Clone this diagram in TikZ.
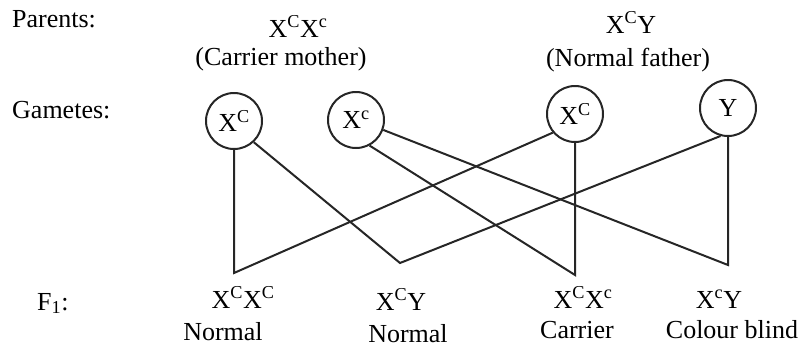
\documentclass[tikz,border=0pt]{standalone}
\usepackage{fontspec}
\setmainfont{Liberation Serif}
\begin{document}
\begin{tikzpicture}[x=1pt,y=-1pt,
  lbl/.style={font=\fontsize{26}{29}\selectfont, inner sep=0pt, anchor=base},
  side/.style={lbl, anchor=base west},
  gam/.style={draw=black!85, line width=2pt, circle, minimum size=56pt, inner sep=0pt, font=\fontsize{26}{29}\selectfont},
  link/.style={draw=black!85, line width=2pt}]
\useasboundingbox (0,0) rectangle (803,349);
% left labels
\node[side] (parents) at (12,27) {Parents:};
\node[side] (gametes) at (12,118) {Gametes:};
\node[side] (f1) at (37,310) {F\textsubscript{1}:};
% parents
\node[lbl] (mother) at (298,37) {X\textsuperscript{C}X\textsuperscript{c}};
\node[lbl] (mlab) at (281,65) {(Carrier mother)};
\node[lbl] (father) at (631,33) {X\textsuperscript{C}Y};
\node[lbl] (flab) at (628,66) {(Normal father)};
% gametes
\node[gam] (g1) at (234,121) {X\textsuperscript{C}};
\node[gam] (g2) at (356,120) {X\textsuperscript{c}};
\node[gam] (g3) at (575,114) {X\textsuperscript{C}};
\node[gam] (g4) at (728,108) {Y};
% F1 junction points
\coordinate (n1) at (234,273);
\coordinate (n2) at (400,263);
\coordinate (n3) at (575,275);
\coordinate (n4) at (728,265);
% connectors
\draw[link] (g1.south) -- (n1) -- (g3.-140);
\draw[link] (g1.-47) -- (n2) -- (g4.-105);
\draw[link] (g2.-62) -- (n3) -- (g3.south);
\draw[link] (g2.-20) -- (n4) -- (g4.south);
% F1 genotypes
\node[lbl] (c1) at (243,308) {X\textsuperscript{C}X\textsuperscript{C}};
\node[lbl] (c2) at (401,310) {X\textsuperscript{C}Y};
\node[lbl] (c3) at (583,308) {X\textsuperscript{C}X\textsuperscript{c}};
\node[lbl] (c4) at (719,308) {X\textsuperscript{c}Y};
\node[lbl] (p1) at (223,340) {Normal};
\node[lbl] (p2) at (408,342) {Normal};
\node[lbl] (p3) at (577,338) {Carrier};
\node[lbl] (p4) at (732,338) {Colour blind};
\end{tikzpicture}
\end{document}
